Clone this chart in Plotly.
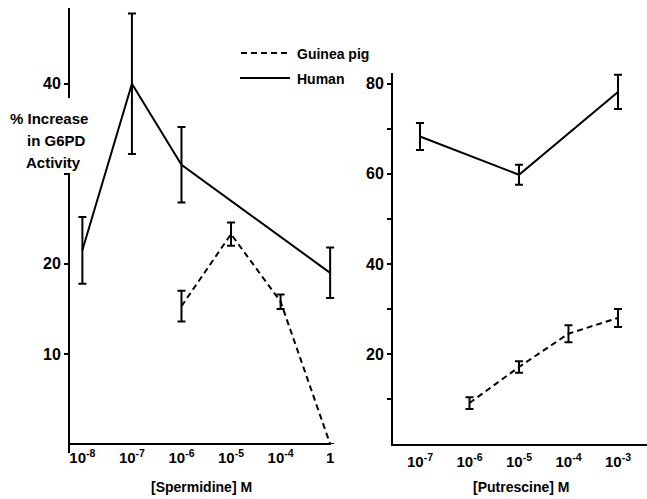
import plotly.graph_objects as go

W, H = 647, 499

# Spermidine panel (category positions 0..5)
sperm_labels = ["10<sup>-8</sup>", "10<sup>-7</sup>", "10<sup>-6</sup>",
                "10<sup>-5</sup>", "10<sup>-4</sup>", "1"]
sperm_human_x = [0, 1, 2, 5]
sperm_human_y = [21.5, 40.0, 31.0, 19.0]
sperm_human_err = [3.7, 7.8, 4.2, 2.8]
sperm_gp_x = [2, 3, 4, 5]
sperm_gp_y = [15.3, 23.3, 15.8, 0.0]
sperm_gp_err = [1.7, 1.3, 0.8, None]

# Putrescine panel (category positions 0..4)
put_labels = ["10<sup>-7</sup>", "10<sup>-6</sup>", "10<sup>-5</sup>",
              "10<sup>-4</sup>", "10<sup>-3</sup>"]
put_human_x = [0, 2, 4]
put_human_y = [68.3, 59.8, 78.2]
put_human_err = [3.0, 2.2, 3.8]
put_gp_x = [1, 2, 3, 4]
put_gp_y = [9.1, 17.1, 24.5, 28.0]
put_gp_err = [1.3, 1.3, 1.9, 2.0]

FONT = "Liberation Sans, Arial, sans-serif"
DASH = "6px,4px"


def px(x):
    return x / W


def py(y):
    return 1 - y / H


def series(x, y, err, dash, xa, ya):
    return go.Scatter(
        x=x, y=y, mode="lines", xaxis=xa, yaxis=ya, showlegend=False,
        cliponaxis=False,
        line=dict(color="black", width=2, dash=dash),
        error_y=dict(type="data", array=err, visible=True,
                     color="black", thickness=2, width=4),
    )


fig = go.Figure()
fig.add_trace(series(sperm_human_x, sperm_human_y, sperm_human_err, "solid", "x", "y"))
fig.add_trace(series(sperm_gp_x, sperm_gp_y, sperm_gp_err, DASH, "x", "y"))
fig.add_trace(series(put_human_x, put_human_y, put_human_err, "solid", "x2", "y2"))
fig.add_trace(series(put_gp_x, put_gp_y, put_gp_err, DASH, "x2", "y2"))

ytickfont = dict(family=FONT, size=16, color="black", weight="bold")
xtickfont = dict(family=FONT, size=15, color="black", weight="bold")
minor_ticks = dict(ticks="outside", ticklen=4, tickwidth=1.5, tickcolor="black")

# category spacing is ~49.5 px; the left panel's plot area runs a little past
# the last category so its error bar is not cut off
fig.update_layout(
    width=W, height=H,
    margin=dict(l=0, r=0, t=0, b=0),
    paper_bgcolor="white", plot_bgcolor="white",
    xaxis=dict(domain=[px(69), px(345)], range=[-0.27, 5.3],
               tickvals=list(range(len(sperm_labels))), ticktext=sperm_labels,
               showline=False, showgrid=False, zeroline=False, ticks="",
               ticklabelstandoff=3, tickfont=xtickfont),
    yaxis=dict(domain=[py(444), py(8)], range=[0, 48.4],
               tickvals=[10, 20, 40], ticktext=["10", "20", "40"],
               minor=dict(tickvals=[30], **minor_ticks),
               showline=False, showgrid=False, zeroline=False,
               ticks="outside", ticklen=4, tickwidth=1.5, tickcolor="black",
               tickfont=ytickfont),
    xaxis2=dict(domain=[px(393), 1.0], range=[-0.545, 4.586], anchor="y2",
                tickvals=list(range(len(put_labels))), ticktext=put_labels,
                showline=True, linecolor="black", linewidth=2,
                showgrid=False, zeroline=False, ticks="",
                ticklabelstandoff=3, tickfont=xtickfont),
    yaxis2=dict(domain=[py(444), py(73)], range=[0, 82.4], anchor="x2",
                tickvals=[20, 40, 60, 80], ticktext=["20", "40", "60", "80"],
                minor=dict(tickvals=[10, 30, 50, 70], **minor_ticks),
                showline=True, linecolor="black", linewidth=2,
                showgrid=False, zeroline=False,
                ticks="outside", ticklen=4, tickwidth=1.5, tickcolor="black",
                tickfont=ytickfont),
)

shapes = [
    # left horizontal axis, ending at the last category
    dict(type="line", xref="paper", yref="paper",
         x0=px(68), x1=px(331), y0=py(444), y1=py(444),
         line=dict(color="black", width=2)),
    # left vertical axis, broken where the axis title sits
    dict(type="line", xref="paper", yref="paper",
         x0=px(69), x1=px(69), y0=py(453), y1=py(173),
         line=dict(color="black", width=2)),
    dict(type="line", xref="paper", yref="paper",
         x0=px(69), x1=px(69), y0=py(98), y1=py(8),
         line=dict(color="black", width=2)),
    # legend keys
    dict(type="line", xref="paper", yref="paper",
         x0=px(241), x1=px(290), y0=py(53), y1=py(53),
         line=dict(color="black", width=2, dash=DASH)),
    dict(type="line", xref="paper", yref="paper",
         x0=px(240), x1=px(290), y0=py(78), y1=py(78),
         line=dict(color="black", width=2)),
]
fig.update_layout(shapes=shapes)

textfont = dict(family=FONT, size=15, color="black", weight="bold")
annotations = [
    dict(text="Guinea pig", x=px(295), y=py(54), xanchor="left", yanchor="middle", size=14),
    dict(text="Human", x=px(295), y=py(79), xanchor="left", yanchor="middle", size=14),
    dict(text="% Increase", x=px(49), y=py(118), xanchor="center", yanchor="middle", size=15),
    dict(text="in G6PD", x=px(56), y=py(141), xanchor="center", yanchor="middle", size=15),
    dict(text="Activity", x=px(53), y=py(162), xanchor="center", yanchor="middle", size=15),
    dict(text="[Spermidine] M", x=px(201), y=py(487), xanchor="center", yanchor="middle", size=14),
    dict(text="[Putrescine] M", x=px(521), y=py(487), xanchor="center", yanchor="middle", size=14),
]
for a in annotations:
    size = a.pop("size")
    a.update(xref="paper", yref="paper", showarrow=False,
             font=dict(textfont, size=size))
fig.update_layout(annotations=annotations)

fig.write_html("out.html")
